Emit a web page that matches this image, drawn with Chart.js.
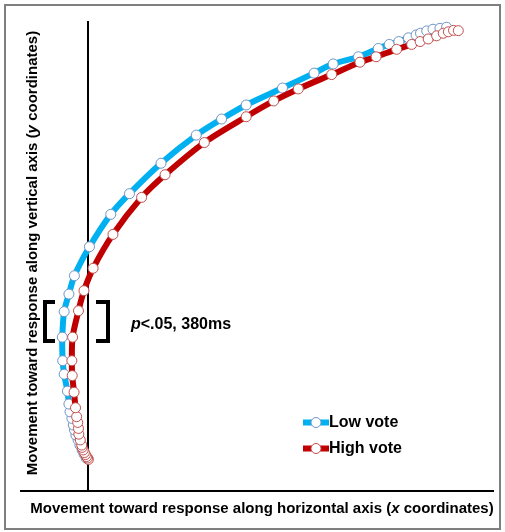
<!DOCTYPE html>
<html><head><meta charset="utf-8">
<script src="https://cdn.jsdelivr.net/npm/chart.js@4.4.1/dist/chart.umd.min.js"></script>
<style>html,body{margin:0;padding:0;background:#fff}#wrap{width:505px;height:532px}</style>
</head><body><div id="wrap"><canvas id="c" width="505" height="532"></canvas></div>
<script>
// Low vote trajectory (normalized x/y coordinates), start -> end
const lowX = [-0.005,-0.011,-0.016,-0.022,-0.027,-0.033,-0.037,-0.040,-0.044,-0.049,-0.052,-0.056,-0.065,-0.069,-0.070,-0.065,-0.052,-0.037,0.004,0.062,0.113,0.199,0.295,0.364,0.431,0.530,0.616,0.668,0.737,0.791,0.821,0.847,0.873,0.894,0.906,0.923,0.940,0.959,0.977];
const lowY = [0.007,0.021,0.035,0.052,0.070,0.087,0.105,0.122,0.145,0.168,0.195,0.240,0.299,0.346,0.428,0.517,0.578,0.642,0.743,0.856,0.928,1.034,1.132,1.188,1.237,1.296,1.348,1.380,1.405,1.434,1.448,1.458,1.471,1.481,1.487,1.495,1.501,1.504,1.508];
// High vote trajectory
const highX = [0.001,-0.001,-0.004,-0.007,-0.010,-0.013,-0.016,-0.017,-0.021,-0.025,-0.026,-0.028,-0.031,-0.034,-0.038,-0.043,-0.044,-0.042,-0.026,-0.011,0.014,0.068,0.146,0.210,0.317,0.431,0.506,0.573,0.664,0.741,0.785,0.841,0.882,0.905,0.927,0.950,0.968,0.982,0.996,1.009];
const highY = [0.002,0.007,0.012,0.019,0.026,0.035,0.044,0.052,0.070,0.090,0.110,0.131,0.151,0.182,0.236,0.294,0.346,0.428,0.520,0.590,0.668,0.786,0.915,0.994,1.106,1.196,1.251,1.293,1.343,1.386,1.405,1.431,1.448,1.458,1.467,1.478,1.487,1.492,1.497,1.496];
const seriesNames = ['Low vote','High vote'];
const xTitle = [['Movement toward response along horizontal axis (',false],['x',true],[' coordinates)',false]];
const yTitle = [['Movement toward response along vertical axis (',false],['y',true],[' coordinates)',false]];
const sigLabel = [['p',true],['<.05, 380ms',false]];

const FAM = '"Liberation Sans", Arial, sans-serif';
const BLUE = '#00b0f0', RED = '#c00000';
const BLUE_PT = '#6f96c8', RED_PT = '#c0504d';

function runs(ctx, parts, size, cx, cy){
  let w = 0;
  parts.forEach(p=>{ ctx.font = (p[1]?'italic ':'')+'bold '+size+'px '+FAM; w += ctx.measureText(p[0]).width; });
  let x = cx - w/2;
  ctx.textBaseline = 'middle'; ctx.textAlign='left';
  parts.forEach(p=>{ ctx.font = (p[1]?'italic ':'')+'bold '+size+'px '+FAM; ctx.fillText(p[0], x, cy); x += ctx.measureText(p[0]).width; });
}
function runsLeft(ctx, parts, size, x, cy){
  ctx.textBaseline = 'middle'; ctx.textAlign='left';
  parts.forEach(p=>{ ctx.font = (p[1]?'italic ':'')+'bold '+size+'px '+FAM; ctx.fillText(p[0], x, cy); x += ctx.measureText(p[0]).width; });
}

const decor = {
  id:'decor',
  beforeDraw(chart){
    const ctx = chart.ctx; ctx.save();
    ctx.fillStyle='#fff'; ctx.fillRect(0,0,chart.width,chart.height);
    ctx.strokeStyle='#7f7f7f'; ctx.lineWidth=2; ctx.strokeRect(5,5,495,524);
    ctx.restore();
  },
  beforeDatasetsDraw(chart){
    const ctx = chart.ctx, xs = chart.scales.x, a = chart.chartArea;
    ctx.save(); ctx.strokeStyle='#000'; ctx.lineWidth=2;
    const x0 = Math.round(xs.getPixelForValue(0));
    ctx.beginPath(); ctx.moveTo(x0, a.top); ctx.lineTo(x0, a.bottom); ctx.stroke();
    ctx.beginPath(); ctx.moveTo(a.left, a.bottom+1); ctx.lineTo(a.right, a.bottom+1); ctx.stroke();
    ctx.restore();
  },
  afterDraw(chart){
    const ctx = chart.ctx; ctx.save(); ctx.fillStyle='#000';
    runs(ctx, xTitle, 15, 262, 509);
    ctx.save(); ctx.translate(33, 253); ctx.rotate(-Math.PI/2); runs(ctx, yTitle, 15, 0, 0); ctx.restore();
    // brackets
    ctx.strokeStyle='#000'; ctx.lineWidth=4; ctx.lineJoin='miter';
    ctx.beginPath(); ctx.moveTo(55,302); ctx.lineTo(45,302); ctx.lineTo(45,341); ctx.lineTo(55,341); ctx.stroke();
    ctx.beginPath(); ctx.moveTo(96,302); ctx.lineTo(108,302); ctx.lineTo(108,341); ctx.lineTo(96,341); ctx.stroke();
    runsLeft(ctx, sigLabel, 16, 131, 325);
    // legend
    const items = [[BLUE, BLUE_PT, 422.5],[RED, RED_PT, 448.5]];
    items.forEach((it,i)=>{
      ctx.strokeStyle = it[0]; ctx.lineWidth = 6; ctx.lineCap='butt';
      ctx.beginPath(); ctx.moveTo(303, it[2]); ctx.lineTo(329, it[2]); ctx.stroke();
      ctx.fillStyle='#fff'; ctx.strokeStyle=it[1]; ctx.lineWidth=1;
      ctx.beginPath(); ctx.arc(316, it[2], 5, 0, Math.PI*2); ctx.fill(); ctx.stroke();
      ctx.fillStyle='#000'; ctx.font='bold 16px '+FAM; ctx.textBaseline='middle'; ctx.textAlign='left';
      ctx.fillText(seriesNames[i], 329, it[2]);
    });
    ctx.restore();
  }
};

const toPts = (xs, ys) => xs.map((x,i)=>({x, y: ys[i]}));

new Chart(document.getElementById('c'), {
  type: 'scatter',
  data: { datasets: [
    { label: seriesNames[0], data: toPts(lowX, lowY), showLine: true, borderColor: BLUE, borderWidth: 6, tension: 0.3,
      pointRadius: 5, pointBackgroundColor: '#fff', pointBorderColor: BLUE_PT, pointBorderWidth: 1, order: 2 },
    { label: seriesNames[1], data: toPts(highX, highY), showLine: true, borderColor: RED, borderWidth: 6, tension: 0.3,
      pointRadius: 5, pointBackgroundColor: '#fff', pointBorderColor: RED_PT, pointBorderWidth: 1, order: 1 }
  ]},
  options: {
    responsive: false, animation: false, devicePixelRatio: 1,
    layout: { padding: { left: 20, right: 11, top: 21, bottom: 42 } },
    plugins: { legend: { display: false }, tooltip: { enabled: false } },
    scales: {
      x: { type: 'linear', min: -0.1853, max: 1.1063, display: false },
      y: { type: 'linear', min: -0.1045, max: 1.5296, display: false }
    }
  },
  plugins: [decor]
});
</script></body></html>
